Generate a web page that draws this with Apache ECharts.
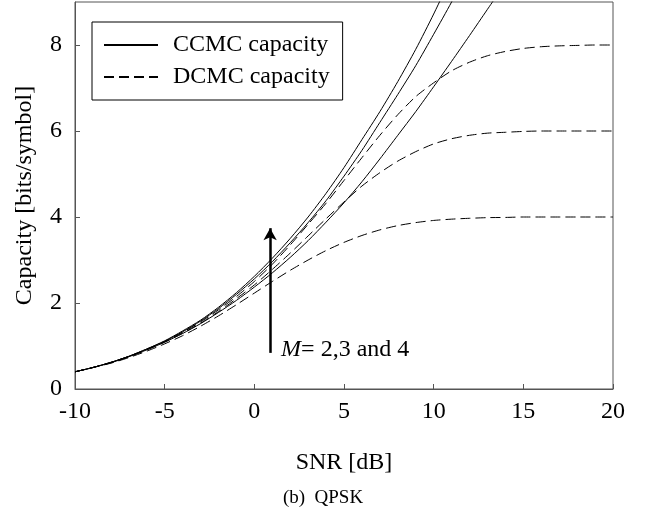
<!DOCTYPE html>
<html>
<head>
<meta charset="utf-8">
<script src="https://cdn.jsdelivr.net/npm/echarts@6/dist/echarts.min.js"></script>
<style>html,body{margin:0;padding:0;background:#fff}#c{width:646px;height:517px}</style>
</head>
<body>
<div id="c"></div>
<script>
// SNR values in dB
var snr = [-10,-9,-8,-7,-6,-5,-4,-3,-2,-1,0,1,2,3,4,5,6,7,8,9,10,11,12,13,14,15,16,17,18,19,20];
// CCMC capacity (solid), M = 4, 3, 2
var ccmc4 = [0.40,0.50,0.62,0.76,0.93,1.12,1.35,1.60,1.90,2.24,2.62,3.04,3.50,4.00,4.55,5.15,5.80,6.45,7.15,7.90,8.72,9.60];
var ccmc3 = [0.40,0.50,0.62,0.76,0.93,1.11,1.33,1.58,1.87,2.20,2.56,2.96,3.40,3.87,4.38,4.95,5.55,6.20,6.85,7.52,8.25,9.00,9.80];
var ccmc2 = [0.40,0.50,0.61,0.75,0.91,1.09,1.29,1.52,1.78,2.06,2.37,2.70,3.06,3.45,3.88,4.33,4.82,5.35,5.90,6.45,7.03,7.62,8.22,8.83,9.44];
// DCMC capacity (dashed), M = 4, 3, 2
var dcmc4 = [0.40,0.50,0.62,0.76,0.92,1.10,1.32,1.56,1.84,2.15,2.50,2.90,3.35,3.83,4.32,4.85,5.38,5.90,6.38,6.80,7.12,7.40,7.60,7.75,7.85,7.92,7.96,7.98,7.99,8.00,8.00];
var dcmc3 = [0.40,0.50,0.61,0.75,0.91,1.09,1.30,1.53,1.80,2.10,2.42,2.78,3.16,3.56,3.96,4.35,4.72,5.03,5.30,5.52,5.70,5.82,5.90,5.95,5.97,5.99,6.00,6.00,6.00,6.00,6.00];
var dcmc2 = [0.40,0.50,0.60,0.73,0.88,1.05,1.24,1.46,1.70,1.96,2.23,2.50,2.76,3.00,3.22,3.41,3.57,3.70,3.80,3.87,3.92,3.95,3.97,3.985,3.99,4.00,4.00,4.00,4.00,4.00,4.00];
var xTicks = [-10,-5,0,5,10,15,20];
var yTicks = [0,2,4,6,8];
var legendNames = ['CCMC capacity','DCMC capacity'];
// arrow annotation: SNR position and capacity range
var arrowX = 0.88, arrowFrom = 0.84, arrowTo = 3.74;

function pairs(ys){ return ys.map(function(v,i){ return [snr[i], v]; }); }
var FONT = 'Liberation Serif';
var FS = 24;
function line(name, ys, dashed){
  return {
    name: name, type: 'line', data: pairs(ys), showSymbol: false, symbol: 'none',
    smooth: 0.25, clip: true, silent: true,
    lineStyle: { color: '#000', width: 1, type: dashed ? [10,5] : 'solid' },
    itemStyle: { color: '#000' }
  };
}
var chart = echarts.init(document.getElementById('c'), null, {renderer: 'canvas'});
var series = [
  line(legendNames[0], ccmc4, false),
  line(legendNames[0], ccmc3, false),
  line(legendNames[0], ccmc2, false),
  line(legendNames[1], dcmc4, true),
  line(legendNames[1], dcmc3, true),
  line(legendNames[1], dcmc2, true)
];
series[0].markLine = {
  silent: true, symbol: ['none','arrow'], symbolSize: [10, 12],
  label: {show: false},
  lineStyle: {color: '#000', width: 2.5, type: 'solid'},
  data: [[{coord: [arrowX, arrowFrom]}, {coord: [arrowX, arrowTo]}]]
};
chart.setOption({
  animation: false,
  backgroundColor: '#fff',
  textStyle: { fontFamily: FONT },
  title: {
    text: '(b)  QPSK', left: 'center', top: 484,
    textStyle: { fontFamily: FONT, fontSize: 19, fontWeight: 'normal', color: '#000' }
  },
  grid: { left: 75, right: 33, top: 2, bottom: 128, show: true, borderColor: '#555', borderWidth: 1, backgroundColor: 'transparent' },
  legend: {
    data: legendNames, orient: 'vertical', left: 92, top: 22,
    padding: [10, 13, 10, 11], itemGap: 6,
    itemWidth: 54, itemHeight: 14,
    itemStyle: { opacity: 0 },
    backgroundColor: '#fff', borderColor: '#000', borderWidth: 1,
    textStyle: { fontFamily: FONT, fontSize: FS, color: '#000', lineHeight: 26, padding: [0,0,0,10] },
    selectedMode: false
  },
  xAxis: {
    type: 'value', min: -10, max: 20, interval: 5,
    name: 'SNR [dB]', nameLocation: 'middle', nameGap: 62,
    nameTextStyle: { fontFamily: FONT, fontSize: FS, color: '#000' },
    axisLine: { onZero: false, lineStyle: { color: '#555', width: 1 } },
    axisTick: { inside: true, length: 5, lineStyle: { color: '#555' } },
    axisLabel: { fontFamily: FONT, fontSize: FS, color: '#000', margin: 11 },
    splitLine: { show: false }
  },
  yAxis: {
    type: 'value', min: 0, max: 9, interval: 2,
    name: 'Capacity [bits/symbol]', nameLocation: 'middle', nameGap: 38,
    nameTextStyle: { fontFamily: FONT, fontSize: FS, color: '#000' },
    axisLine: { show: true, onZero: false, lineStyle: { color: '#555', width: 1 } },
    axisTick: { show: true, inside: true, length: 5, lineStyle: { color: '#555' }, customValues: yTicks },
    axisLabel: { fontFamily: FONT, fontSize: FS, color: '#000', margin: 13, customValues: yTicks },
    splitLine: { show: false }
  },
  series: series
});
var p = chart.convertToPixel({gridIndex: 0}, [arrowX, arrowFrom]);
chart.setOption({
  graphic: [{
    type: 'text', left: p[0] + 11, top: p[1] - 15, silent: true,
    style: {
      text: '{i|M}= 2,3 and 4',
      font: FS + 'px "Liberation Serif"', fill: '#000',
      rich: { i: { fontStyle: 'italic', fontFamily: FONT, fontSize: FS, fill: '#000' } }
    }
  }]
});
</script>
</body>
</html>
